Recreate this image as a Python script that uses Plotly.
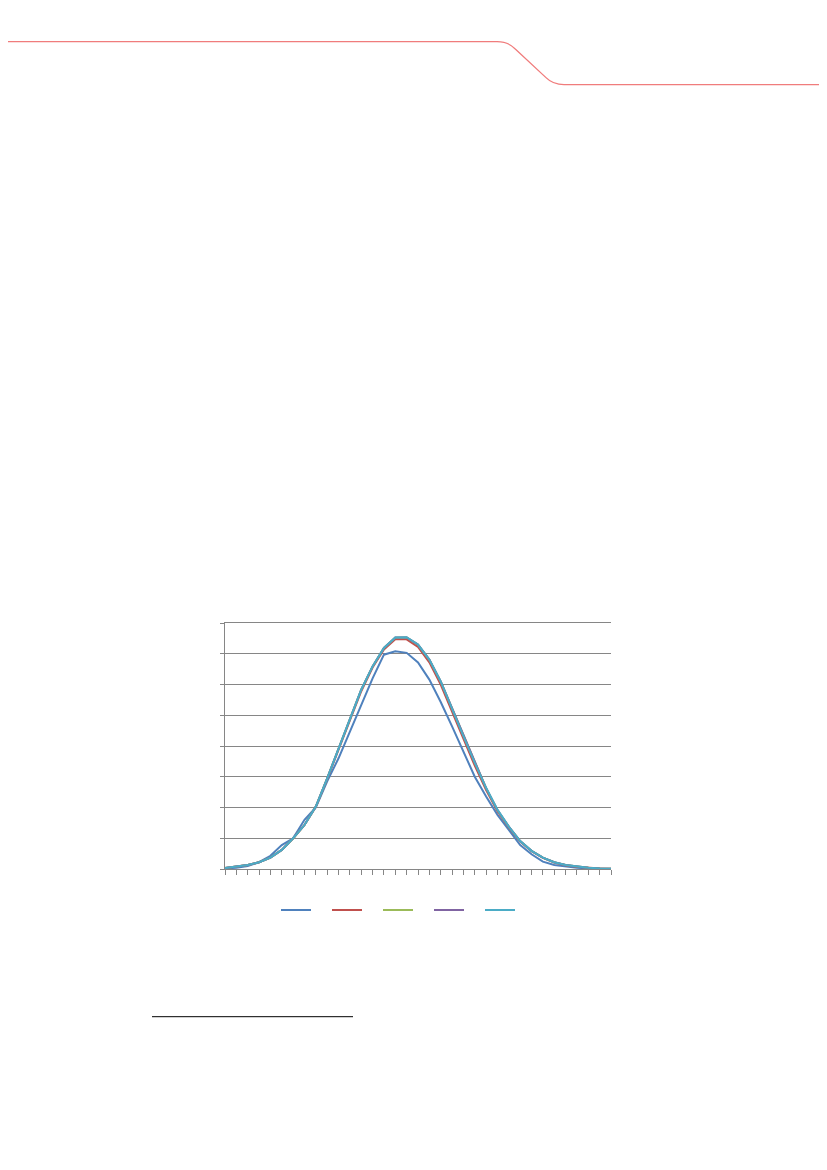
import plotly.graph_objects as go

# category index along the x axis (labels are not shown in the source)
steps = list(range(35))

# series values (units = one gridline step)
series_1 = [0.02, 0.04, 0.10, 0.22, 0.43, 0.78, 1.00, 1.60, 2.00, 2.85, 3.60, 4.47,
            5.29, 6.20, 6.97, 7.08, 7.03, 6.72, 6.16, 5.43, 4.64, 3.82, 3.00, 2.36,
            1.76, 1.27, 0.78, 0.48, 0.24, 0.13, 0.08, 0.04, 0.02, 0.01, 0.00]
series_2 = [0.03, 0.08, 0.13, 0.22, 0.37, 0.62, 1.00, 1.43, 2.02, 2.93, 3.90, 4.86,
            5.78, 6.55, 7.14, 7.47, 7.47, 7.22, 6.72, 6.00, 5.13, 4.22, 3.36, 2.57,
            1.88, 1.35, 0.89, 0.58, 0.36, 0.21, 0.12, 0.07, 0.04, 0.02, 0.01]
series_3 = [0.03, 0.08, 0.13, 0.22, 0.37, 0.62, 0.99, 1.43, 2.03, 2.95, 3.93, 4.90,
            5.83, 6.59, 7.19, 7.52, 7.53, 7.29, 6.80, 6.09, 5.22, 4.30, 3.43, 2.62,
            1.91, 1.37, 0.91, 0.59, 0.37, 0.22, 0.13, 0.08, 0.04, 0.02, 0.01]
series_4 = [0.03, 0.08, 0.13, 0.22, 0.37, 0.62, 1.00, 1.43, 2.03, 2.95, 3.93, 4.90,
            5.83, 6.59, 7.19, 7.53, 7.53, 7.30, 6.81, 6.10, 5.23, 4.31, 3.44, 2.63,
            1.92, 1.38, 0.91, 0.59, 0.37, 0.22, 0.13, 0.08, 0.04, 0.02, 0.01]
series_5 = [0.03, 0.08, 0.13, 0.22, 0.37, 0.62, 1.00, 1.43, 2.03, 2.95, 3.93, 4.90,
            5.83, 6.59, 7.19, 7.53, 7.54, 7.30, 6.81, 6.10, 5.24, 4.32, 3.45, 2.64,
            1.93, 1.38, 0.91, 0.59, 0.37, 0.22, 0.13, 0.08, 0.04, 0.02, 0.01]

colors = ['#4F81BD', '#C0504D', '#9BBB59', '#8064A2', '#4BACC6']
all_series = [series_1, series_2, series_3, series_4, series_5]

W, H = 827, 1170
L, R, T, B = 225, 611, 622.5, 869
OFF = 8  # page body margin


def px(x):
    return (x - L) / (R - L)


def py(y):
    return (B - y) / (B - T)


fig = go.Figure()
for vals, c in zip(all_series, colors):
    fig.add_trace(go.Scatter(x=steps, y=vals, mode='lines', name=' ',
                             line=dict(color=c, width=2)))

# red page decoration at the top and footnote rule
deco = (f"M {px(-20)},{py(40)} L {px(497)},{py(40)} "
        f"Q {px(508)},{py(40)} {px(515)},{py(47)} "
        f"L {px(546)},{py(76)} Q {px(553)},{py(83)} {px(564)},{py(83)} "
        f"L {px(840)},{py(83)}")
fig.add_shape(type='path', path=deco, xref='paper', yref='paper',
              line=dict(color='#F07C7C', width=1.3))
fig.add_shape(type='line', xref='paper', yref='paper',
              x0=px(152), x1=px(353), y0=py(1017), y1=py(1017),
              line=dict(color='#000000', width=1))

grid = '#868686'
fig.update_xaxes(range=[0, 34], dtick=1, showticklabels=False, showgrid=False,
                 zeroline=False, showline=True, linecolor=grid, linewidth=1,
                 mirror=True, ticks='outside', ticklen=5, tickcolor=grid)
fig.update_yaxes(range=[0, 8], dtick=1, showticklabels=False, showgrid=True,
                 gridcolor=grid, gridwidth=1, zeroline=False, showline=True,
                 linecolor=grid, linewidth=1, ticks='outside', ticklen=4,
                 tickcolor=grid)

fig.update_layout(
    width=W, height=H,
    margin=dict(l=L - OFF, r=W - R + OFF, t=T - OFF, b=H - B + OFF),
    paper_bgcolor='white', plot_bgcolor='white',
    showlegend=True,
    legend=dict(orientation='h', x=px(276), y=py(910), xanchor='left',
                yanchor='middle', entrywidth=6, entrywidthmode='pixels',
                font=dict(size=10, color='white'), bgcolor='rgba(0,0,0,0)'),
)

fig.write_html("out.html")
